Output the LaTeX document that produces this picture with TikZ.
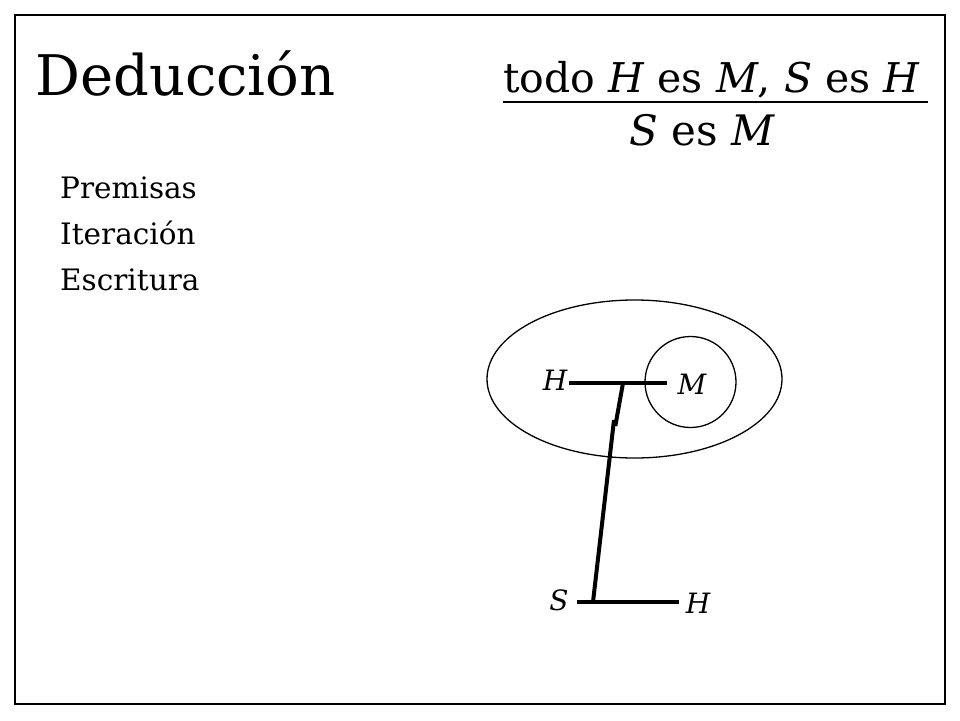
\documentclass[tikz,border=0pt]{standalone}
\usepackage{fontspec}
\setmainfont{DejaVu Serif}
\usetikzlibrary{positioning}

\tikzset{
    label text/.style={font=\fontsize{29.5}{34}\selectfont, anchor=base west, inner sep=0pt},
    var text/.style={font=\fontsize{28}{32}\selectfont\itshape, inner sep=0pt},
    ligature/.style={line width=4pt},
}

\begin{document}
\begin{tikzpicture}[x=1pt, y=-1pt]
    \useasboundingbox (0,0) rectangle (960,720);
    % frame
    \draw[line width=1.5pt] (15,15) rectangle (945,704);

    % title and syllogism
    \node[anchor=base west, inner sep=0pt, font=\fontsize{56}{64}\selectfont] (title) at (35,95) {Deducción};
    \node[anchor=base, inner sep=0pt, font=\fontsize{41}{46}\selectfont] (prem) at (711.5,92)
        {todo \textit{H} es \textit{M}, \textit{S} es \textit{H}};
    \coordinate (barL) at (503,102);
    \coordinate (barR) at (928,102);
    \draw[line width=2pt] (barL) -- (barR);
    \node[anchor=base, inner sep=0pt, font=\fontsize{42}{46}\selectfont] (concl) at (702,145)
        {\textit{S} es \textit{M}};

    % steps
    \node[label text] (premisas) at (60,198) {Premisas};
    \node[label text] (iteracion) at (60,244) {Iteración};
    \node[label text] (escritura) at (60,290) {Escritura};

    % graph
    \draw[line width=1.3pt] (634.5,379) ellipse [x radius=147.5, y radius=79];
    \draw[line width=1.3pt] (690.5,382) circle [radius=45.5];

    \node[var text] (H1) at (555,380) {H};
    \node[var text] (M) at (692,384) {M};
    \node[var text] (S) at (559,600) {S};
    \node[var text] (H2) at (698,603) {H};

    \coordinate (topL) at (569,383);
    \coordinate (topR) at (667,383);
    \coordinate (joint) at (623,383);
    \coordinate (kinkA) at (615.3,426);
    \coordinate (kinkB) at (614,420);
    \coordinate (foot) at (593,602);
    \coordinate (botL) at (577,602);
    \coordinate (botR) at (679,602);

    \draw[ligature] (topL) -- (topR);
    \draw[ligature] (joint) -- (kinkA);
    \draw[ligature] (kinkB) -- (foot);
    \draw[ligature] (botL) -- (botR);
\end{tikzpicture}
\end{document}
